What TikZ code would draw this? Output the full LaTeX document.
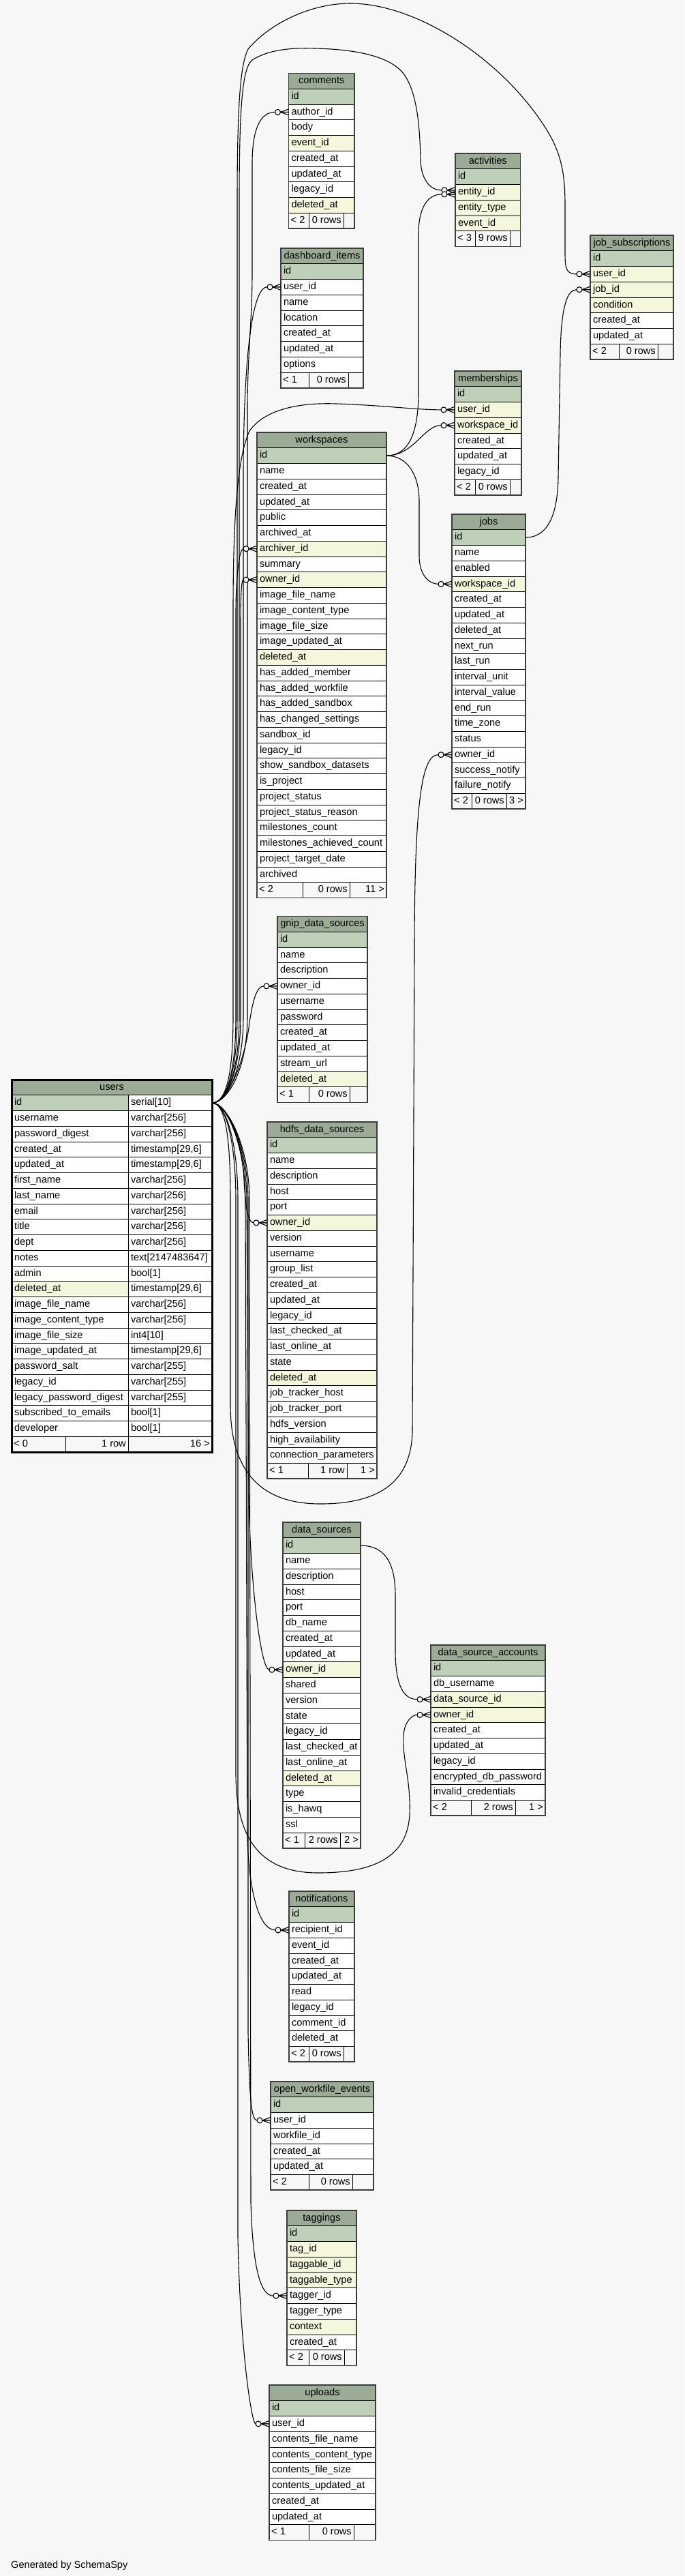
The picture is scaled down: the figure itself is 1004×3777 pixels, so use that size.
\documentclass[tikz,border=0pt]{standalone}
\usepackage{fontspec}
\setmainfont{Liberation Sans}

\definecolor{hgrund}{HTML}{F7F7F7}
\definecolor{kopffarbe}{HTML}{9BAB96}
\definecolor{pkgruen}{HTML}{BED1B8}
\definecolor{ixgelb}{HTML}{F4F7DC}
\definecolor{rahmenfarbe}{HTML}{3C3C3C}

\newcommand{\schrift}{\fontsize{14.6}{17}\selectfont}
\newcommand{\zh}{22.75}

\tikzset{
  kopf/.style={draw=black, line width=0.9pt, fill=kopffarbe, minimum height=\zh pt, inner sep=0pt, outer sep=0pt, text height=10.5pt, text depth=3pt, font=\schrift},
  zelle/.style={draw=black, line width=0.9pt, fill=white, minimum height=\zh pt, inner xsep=4pt, inner ysep=0pt, outer sep=0pt, text height=10.5pt, text depth=3pt, align=left, font=\schrift},
  pk/.style={fill=pkgruen},
  ix/.style={fill=ixgelb},
  pl/.style={fill=white},
  ftext/.style={inner sep=0pt, text height=10.5pt, text depth=3pt, font=\schrift},
  rahmen/.style={draw=rahmenfarbe, line width=1.6pt},
  fk/.style={draw=black, line width=1.1pt},
  krahe/.pic={
    \draw[line width=1.1pt] (-12,0) -- (0,4.5) (-12,0) -- (0,-4.5) (-12,0) -- (0,0);
    \draw[line width=1.1pt, fill=hgrund] (-16,0) circle[radius=4];
  }
}

% Tabelle: Name, x links, x rechts, y oben, Spalten
\newcommand{\tabelle}[5]{%
  \pgfmathsetmacro\tbreite{#3-#2}%
  \pgfmathsetmacro\tweite{#3-#2-8}%
  \xdef\tabtop{#4}%
  \node[kopf, minimum width=\tbreite pt, anchor=north west] (#1) at (#2,#4) {#1};
  \foreach \spalte/\art [count=\i] in {#5} {
    \node[zelle, \art, text width=\tweite pt, anchor=north west] (#1-\spalte) at (#2,{#4+\i*\zh}) {\spalte};
    \xdef\nzeilen{\i}
  }
  \pgfmathsetmacro\fussy{#4+(\nzeilen+1)*\zh}%
}

% Fusszeile mit Rahmen
\newcommand{\fuss}[9]{%
  \draw[draw=black, line width=0.9pt, fill=hgrund] (#2,#6) rectangle (#3,#6+\zh) (#3,#6) rectangle (#4,#6+\zh) (#4,#6) rectangle (#5,#6+\zh);
  \node[ftext, anchor=west] (#1-fa) at (#2+3,#6+\zh/2) {#7};
  \node[ftext, anchor=east] (#1-fb) at (#4-3,#6+\zh/2) {#8};
  \node[ftext, anchor=east] (#1-fc) at (#5-3,#6+\zh/2) {#9};
  \draw[rahmen] (#2,\tabtop) rectangle (#5,#6+\zh);
}

\begin{document}
\catcode`\_=12
\begin{tikzpicture}[x=1pt, y=-1pt]

  % Hintergrund
  \useasboundingbox (0,0) rectangle (1004,3777);
  \fill[hgrund] (0,0) rectangle (1004,3777);

  % Tabelle users
  \xdef\tabtop{1583}
  \node[kopf, minimum width=294pt, anchor=north west] (users) at (17,1583) {users};
  \foreach \spalte/\typ/\art [count=\i] in {id/serial[10]/pk, username/varchar[256]/pl, password_digest/varchar[256]/pl,
      created_at/{timestamp[29,6]}/pl, updated_at/{timestamp[29,6]}/pl, first_name/varchar[256]/pl, last_name/varchar[256]/pl,
      email/varchar[256]/pl, title/varchar[256]/pl, dept/varchar[256]/pl, notes/text[2147483647]/pl, admin/bool[1]/pl,
      deleted_at/{timestamp[29,6]}/ix, image_file_name/varchar[256]/pl, image_content_type/varchar[256]/pl,
      image_file_size/int4[10]/pl, image_updated_at/{timestamp[29,6]}/pl, password_salt/varchar[255]/pl,
      legacy_id/varchar[255]/pl, legacy_password_digest/varchar[255]/pl, subscribed_to_emails/bool[1]/pl, developer/bool[1]/pl} {
    \node[zelle, \art, text width=163pt, anchor=north west] (users-\spalte) at (17,{1583+\i*\zh}) {\spalte};
    \node[zelle, text width=115pt, anchor=north west] (users-\spalte-typ) at (188,{1583+\i*\zh}) {\typ};
  }
  \fuss{users}{17}{96}{188}{311}{2106.25}{< 0}{1 row}{16 >}
  \draw[draw=black, line width=3pt] (17,1583) rectangle (311,2129);

  % obere Tabellen
  \tabelle{comments}{423.5}{520}{107.5}{id/pk, author_id/pl, body/pl, event_id/ix, created_at/pl, updated_at/pl, legacy_id/pl, deleted_at/ix}
  \fuss{comments}{423.5}{453}{504}{520}{\fussy}{< 2}{0 rows}{}

  \tabelle{activities}{668}{763.5}{225}{id/pk, entity_id/ix, entity_type/ix, event_id/ix}
  \fuss{activities}{668}{697}{748}{763.5}{\fussy}{< 3}{9 rows}{}

  \tabelle{job_subscriptions}{866}{988}{345}{id/pk, user_id/ix, job_id/ix, condition/ix, created_at/pl, updated_at/pl}
  \fuss{job_subscriptions}{866}{908}{965}{988}{\fussy}{< 2}{0 rows}{}

  \tabelle{dashboard_items}{412}{533}{364}{id/pk, user_id/pl, name/pl, location/pl, created_at/pl, updated_at/pl, options/pl}
  \fuss{dashboard_items}{412}{453}{511}{533}{\fussy}{< 1}{0 rows}{}

  \tabelle{memberships}{667}{765}{544}{id/pk, user_id/ix, workspace_id/ix, created_at/pl, updated_at/pl, legacy_id/pl}
  \fuss{memberships}{667}{697}{748}{765}{\fussy}{< 2}{0 rows}{}

  \tabelle{workspaces}{377}{567}{634}{id/pk, name/pl, created_at/pl, updated_at/pl, public/pl, archived_at/pl, archiver_id/ix,
    summary/pl, owner_id/ix, image_file_name/pl, image_content_type/pl, image_file_size/pl, image_updated_at/pl, deleted_at/ix,
    has_added_member/pl, has_added_workfile/pl, has_added_sandbox/pl, has_changed_settings/pl, sandbox_id/pl, legacy_id/pl,
    show_sandbox_datasets/pl, is_project/pl, project_status/pl, project_status_reason/pl, milestones_count/pl,
    milestones_achieved_count/pl, project_target_date/pl, archived/pl}
  \fuss{workspaces}{377}{444}{513}{567}{\fussy}{< 2}{0 rows}{11 >}

  \tabelle{jobs}{663}{771}{754}{id/pk, name/pl, enabled/pl, workspace_id/ix, created_at/pl, updated_at/pl, deleted_at/pl,
    next_run/pl, last_run/pl, interval_unit/pl, interval_value/pl, end_run/pl, time_zone/pl, status/pl, owner_id/pl,
    success_notify/pl, failure_notify/pl}
  \fuss{jobs}{663}{692}{743}{771}{\fussy}{< 2}{0 rows}{3 >}

  \tabelle{gnip_data_sources}{407}{539}{1343.5}{id/pk, name/pl, description/pl, owner_id/pl, username/pl, password/pl,
    created_at/pl, updated_at/pl, stream_url/pl, deleted_at/ix}
  \fuss{gnip_data_sources}{407}{453}{513}{539}{\fussy}{< 1}{0 rows}{}

  % untere Tabellen
  \tabelle{hdfs_data_sources}{392}{553}{1645}{id/pk, name/pl, description/pl, host/pl, port/pl, owner_id/ix, version/pl,
    username/pl, group_list/pl, created_at/pl, updated_at/pl, legacy_id/pl, last_checked_at/pl, last_online_at/pl, state/pl,
    deleted_at/ix, job_tracker_host/pl, job_tracker_port/pl, hdfs_version/pl, high_availability/pl, connection_parameters/pl}
  \fuss{hdfs_data_sources}{392}{452}{509}{553}{\fussy}{< 1}{1 row}{1 >}

  \tabelle{data_sources}{415}{529}{2232}{id/pk, name/pl, description/pl, host/pl, port/pl, db_name/pl, created_at/pl,
    updated_at/pl, owner_id/ix, shared/pl, version/pl, state/pl, legacy_id/pl, last_checked_at/pl, last_online_at/pl,
    deleted_at/ix, type/pl, is_hawq/pl, ssl/pl}
  \fuss{data_sources}{415}{447}{499}{529}{\fussy}{< 1}{2 rows}{2 >}

  \tabelle{data_source_accounts}{632}{800}{2412}{id/pk, db_username/pl, data_source_id/ix, owner_id/ix, created_at/pl,
    updated_at/pl, legacy_id/pl, encrypted_db_password/pl, invalid_credentials/pl}
  \fuss{data_source_accounts}{632}{691}{756}{800}{\fussy}{< 2}{2 rows}{1 >}

  \tabelle{notifications}{424}{520}{2773}{id/pk, recipient_id/pl, event_id/pl, created_at/pl, updated_at/pl, read/pl,
    legacy_id/pl, comment_id/pl, deleted_at/pl}
  \fuss{notifications}{424}{453}{504}{520}{\fussy}{< 2}{0 rows}{}

  \tabelle{open_workfile_events}{397}{548}{3052}{id/pk, user_id/pl, workfile_id/pl, created_at/pl, updated_at/pl}
  \fuss{open_workfile_events}{397}{453}{517}{548}{\fussy}{< 2}{0 rows}{}

  \tabelle{taggings}{421}{523}{3241}{id/pk, tag_id/ix, taggable_id/ix, taggable_type/ix, tagger_id/pl, tagger_type/pl,
    context/ix, created_at/pl}
  \fuss{taggings}{421}{453}{505}{523}{\fussy}{< 2}{0 rows}{}

  \tabelle{uploads}{395}{551}{3497}{id/pk, user_id/pl, contents_file_name/pl, contents_content_type/pl, contents_file_size/pl,
    contents_updated_at/pl, created_at/pl, updated_at/pl}
  \fuss{uploads}{395}{453}{519}{551}{\fussy}{< 1}{0 rows}{}

  % Verbindungen von users nach oben
  \draw[fk] (users-id-typ.east) .. controls +(22,0) and (363,1570) .. (363,1490) -- (363,600)
    .. controls (363,520) and (370,470) .. (370,400) -- (370,240)
    .. controls (370,190) and +(-22,0) .. ([xshift=-20pt]comments-author_id.west) -- (comments-author_id.west) pic {krahe};
  \draw[fk] (users-id-typ.east) .. controls +(22,0) and (351,1570) .. (351,1490) -- (351,300)
    .. controls (351,160) and (355,100) .. (370,88) .. controls (395,72) and (430,70) .. (461,71)
    .. controls (520,72) and (572,82) .. (592,108) .. controls (612,135) and (616,185) .. (617,235)
    .. controls (618,262) and +(-18,0) .. ([xshift=-20pt,yshift=3pt]activities-entity_id.west) -- ([yshift=3pt]activities-entity_id.west) pic {krahe};
  \draw[fk] (users-id-typ.east) .. controls +(22,0) and (348,1570) .. (348,1490) -- (348,300)
    .. controls (348,160) and (352,95) .. (364,72) .. controls (395,35) and (455,5) .. (514,5)
    .. controls (610,5) and (735,85) .. (800,187) .. controls (822,222) and (829,250) .. (829,300) -- (829,360)
    .. controls (829,390) and +(-18,0) .. ([xshift=-20pt]job_subscriptions-user_id.west) -- (job_subscriptions-user_id.west) pic {krahe};
  \draw[fk] (users-id-typ.east) .. controls +(22,0) and (357,1570) .. (357,1490) -- (357,700)
    .. controls (357,560) and +(-26,0) .. ([xshift=-20pt]dashboard_items-user_id.west) -- (dashboard_items-user_id.west) pic {krahe};
  \draw[fk] (users-id-typ.east) .. controls +(22,0) and (342,1570) .. (342,1490) -- (342,900)
    .. controls (342,780) and (346,675) .. (366,632) .. controls (388,600) and (440,590) .. (493,592)
    .. controls (560,594) and +(-37,0) .. ([xshift=-20pt]memberships-user_id.west) -- (memberships-user_id.west) pic {krahe};
  \draw[fk] (users-id-typ.east) .. controls +(22,0) and (346,1570) .. (346,1490) -- (346,900)
    .. controls (346,845) and +(-6,0) .. ([xshift=-20pt]workspaces-archiver_id.west) -- (workspaces-archiver_id.west) pic {krahe};
  \draw[fk] (users-id-typ.east) .. controls +(22,0) and (353,1570) .. (353,1490) -- (353,920)
    .. controls (353,875) and +(-3,0) .. ([xshift=-20pt]workspaces-owner_id.west) -- (workspaces-owner_id.west) pic {krahe};
  \draw[fk] (users-id-typ.east) .. controls +(25,0) and (360,1550) .. (366,1500)
    .. controls (371,1465) and +(-10,0) .. ([xshift=-20pt]gnip_data_sources-owner_id.west) -- (gnip_data_sources-owner_id.west) pic {krahe};

  % Verbindungen von users nach unten
  \draw[fk] (users-id-typ.east) .. controls +(25,0) and (356,1680) .. (358,1730)
    .. controls (360,1770) and +(-8,0) .. ([xshift=-20pt]hdfs_data_sources-owner_id.west) -- (hdfs_data_sources-owner_id.west) pic {krahe};
  \draw[fk] (users-id-typ.east) .. controls +(22,0) and (338,1680) .. (338,1760) -- (338,2060)
    .. controls (338,2160) and (385,2205) .. (470,2205) .. controls (560,2205) and (603,2170) .. (605,2100) -- (608,1400)
    .. controls (608,1180) and +(-25,0) .. ([xshift=-20pt]jobs-owner_id.west) -- (jobs-owner_id.west) pic {krahe};
  \draw[fk] (users-id-typ.east) .. controls +(22,0) and (362,1680) .. (362,1760) -- (365,2200)
    .. controls (368,2330) and +(-12,0) .. ([xshift=-20pt]data_sources-owner_id.west) -- (data_sources-owner_id.west) pic {krahe};
  \draw[fk] (users-id-typ.east) .. controls +(22,0) and (346,1680) .. (346,1760) -- (346,2600)
    .. controls (346,2700) and (385,2746) .. (467,2746) .. controls (545,2746) and (598,2725) .. (601,2660)
    .. controls (603,2610) and (590,2580) .. (592,2545)
    .. controls (593,2525) and +(-8,0) .. ([xshift=-20pt]data_source_accounts-owner_id.west) -- (data_source_accounts-owner_id.west) pic {krahe};
  \draw[fk] (users-id-typ.east) .. controls +(22,0) and (360,1680) .. (360,1760) -- (363,2700)
    .. controls (367,2790) and +(-20,0) .. ([xshift=-20pt]notifications-recipient_id.west) -- (notifications-recipient_id.west) pic {krahe};
  \draw[fk] (users-id-typ.east) .. controls +(22,0) and (364,1680) .. (364,1760) -- (364,2980)
    .. controls (366,3080) and +(-8,0) .. ([xshift=-20pt]open_workfile_events-user_id.west) -- (open_workfile_events-user_id.west) pic {krahe};
  \draw[fk] (users-id-typ.east) .. controls +(22,0) and (366,1680) .. (366,1760) -- (368,3230)
    .. controls (371,3330) and +(-18,0) .. ([xshift=-20pt]taggings-tagger_id.west) -- (taggings-tagger_id.west) pic {krahe};
  \draw[fk] (users-id-typ.east) .. controls +(22,0) and (349,1680) .. (349,1760) -- (349,3280)
    .. controls (352,3440) and +(-6,0) .. ([xshift=-20pt]uploads-user_id.west) -- (uploads-user_id.west) pic {krahe};

  % weitere Verbindungen
  \draw[fk] (workspaces-id.east) .. controls +(30,0) and (613,640) .. (614,580) -- (614,340)
    .. controls (615,300) and +(-18,0) .. ([xshift=-20pt,yshift=-3pt]activities-entity_id.west) -- ([yshift=-3pt]activities-entity_id.west) pic {krahe};
  \draw[fk] (workspaces-id.east) .. controls +(40,0) and +(-25,0) .. ([xshift=-20pt]memberships-workspace_id.west) -- (memberships-workspace_id.west) pic {krahe};
  \draw[fk] (workspaces-id.east) .. controls +(30,0) and (615,695) .. (615,735) -- (615,815)
    .. controls (615,845) and +(-12,0) .. ([xshift=-20pt]jobs-workspace_id.west) -- (jobs-workspace_id.west) pic {krahe};
  \draw[fk] (jobs-id.east) .. controls +(30,0) and (818,760) .. (819,700) -- (822,520)
    .. controls (823,450) and +(-14,0) .. ([xshift=-20pt]job_subscriptions-job_id.west) -- (job_subscriptions-job_id.west) pic {krahe};
  \draw[fk] (data_sources-id.east) .. controls +(35,0) and (580,2290) .. (580,2340) -- (580,2420)
    .. controls (580,2475) and +(-18,0) .. ([xshift=-20pt]data_source_accounts-data_source_id.west) -- (data_source_accounts-data_source_id.west) pic {krahe};

  % Fusstext
  \node[ftext, anchor=base west] (erzeugt) at (16,3765) {Generated by SchemaSpy};

\end{tikzpicture}
\end{document}
